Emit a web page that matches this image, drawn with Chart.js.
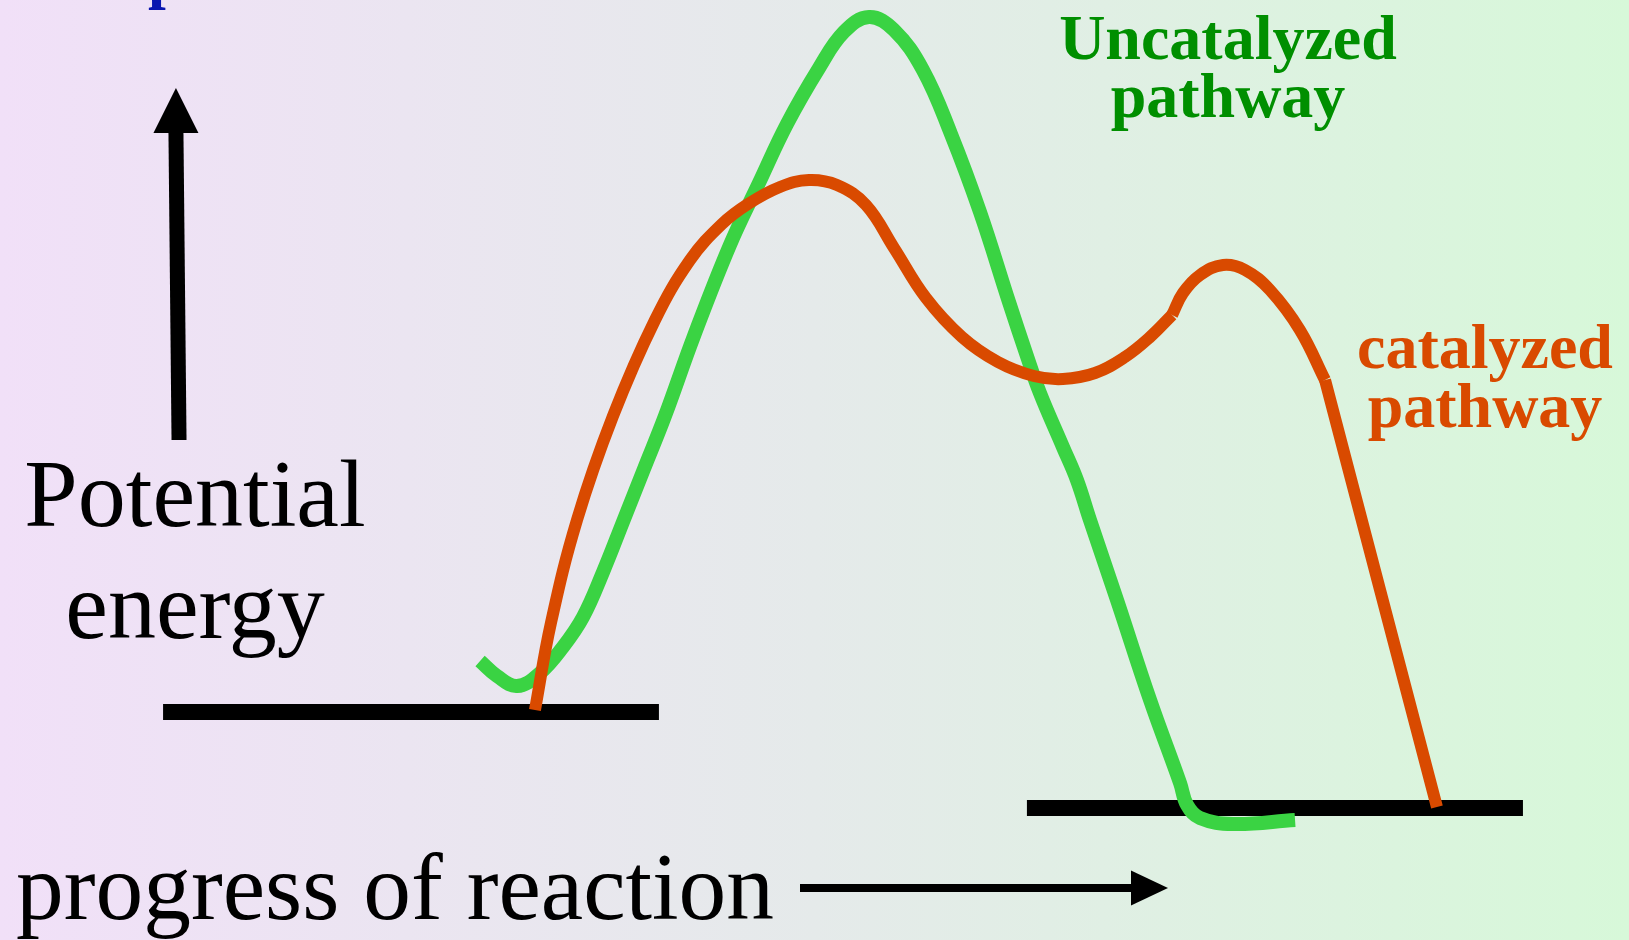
<!DOCTYPE html>
<html><head><meta charset="utf-8">
<script src="https://cdn.jsdelivr.net/npm/chart.js@4/dist/chart.umd.min.js"></script>
<style>html,body{margin:0;padding:0;overflow:hidden;background:#e6eaea}canvas{display:block}</style>
</head><body>
<canvas id="c" width="1629" height="940"></canvas>
<script>
// ---- Data (progress of reaction 0–100, potential energy 0–100) ----
const uncatalyzedX = [29.47, 30.51, 31.74, 33.15, 34.56, 35.79, 37.02, 38.24, 39.53, 40.82, 42.60, 44.81, 46.59, 48.31, 50.28, 51.81, 53.35, 54.88, 56.66, 58.38, 60.16, 61.94, 63.04, 63.84, 65.25, 66.11, 66.91, 68.57, 70.60, 72.44, 72.87, 73.66, 75.69, 79.50];
const uncatalyzedY = [29.68, 28.09, 27.02, 28.40, 31.17, 34.36, 39.15, 44.47, 50.11, 55.74, 64.26, 73.94, 80.53, 86.81, 92.77, 96.60, 98.19, 96.81, 92.55, 85.74, 77.45, 67.87, 62.13, 58.19, 52.45, 48.94, 44.68, 36.17, 25.53, 16.70, 14.36, 12.98, 12.34, 12.77];

const catalyzedX = [32.84, 33.82, 35.42, 37.63, 40.21, 42.36, 44.32, 45.92, 47.88, 49.66, 51.38, 53.16, 54.88, 56.84, 59.05, 61.26, 63.47, 65.25, 67.22, 69.06, 70.60, 71.95, 72.62, 73.66, 75.08, 76.43, 77.96, 79.80, 81.34, 88.21];
const catalyzedY = [24.47, 33.72, 44.68, 55.74, 65.96, 72.34, 76.17, 78.30, 80.11, 80.85, 80.32, 78.19, 73.62, 68.30, 64.15, 61.49, 60.00, 59.68, 60.32, 62.02, 64.15, 66.49, 68.83, 70.74, 71.81, 71.28, 69.15, 64.89, 59.57, 14.15];
const catalyzedCorners = [21, 28]; // indices where the drawn curve has a corner

const levelNames  = ['reactants', 'products'];
const levelStart  = [10.01, 63.04];
const levelEnd    = [40.45, 93.49];
const levelEnergy = [24.26, 14.04];

const energyArrowX   = [10.99, 10.80];
const energyArrowY   = [53.19, 90.64];
const progressArrowX = [49.11, 71.70];
const progressArrowY = [5.53, 5.53];

const axisLabelsY   = ['Potential', 'energy'];
const axisLabelX    = 'progress of reaction';
const seriesLabels  = [['Uncatalyzed', 'pathway'], ['catalyzed', 'pathway']];

// ---- Build datasets ----
const pts = (xs, ys) => xs.map((x, i) => ({x, y: ys[i]}));
const lineDs = (label, data, color, width, order) => ({
  label, data, showLine: true, borderColor: color, backgroundColor: color,
  borderWidth: width, pointRadius: 0, pointHoverRadius: 0, fill: false,
  tension: 0.4, borderCapStyle: 'butt', borderJoinStyle: 'round', order
});

const GREEN = '#3ad343', ORANGE = '#d94a00';
const datasets = [];
levelNames.forEach((n, i) => {
  datasets.push(lineDs(n, pts([levelStart[i], levelEnd[i]], [levelEnergy[i], levelEnergy[i]]), '#000000', 16, 3));
});
datasets.push(lineDs('Uncatalyzed pathway', pts(uncatalyzedX, uncatalyzedY), GREEN, 14, 2));
const cuts = [0, ...catalyzedCorners, catalyzedX.length - 1];
for (let s = 0; s < cuts.length - 1; s++) {
  const a = cuts[s], b = cuts[s + 1] + 1;
  datasets.push(lineDs('catalyzed pathway', pts(catalyzedX.slice(a, b), catalyzedY.slice(a, b)), ORANGE, 12, 1));
}

const decor = {
  id: 'decor',
  beforeDraw(chart) {
    const {ctx, width, height} = chart;
    const g = ctx.createLinearGradient(0, 0, width, 0);
    g.addColorStop(0, '#f1e0f8');
    g.addColorStop(0.5, '#e5eaea');
    g.addColorStop(1, '#d7f8d9');
    ctx.save(); ctx.fillStyle = g; ctx.fillRect(0, 0, width, height); ctx.restore();
  },
  afterDraw(chart) {
    const {ctx} = chart;
    const xs = chart.scales.x, ys = chart.scales.y;
    ctx.save();
    // vertical (energy) arrow
    {
      const x0 = xs.getPixelForValue(energyArrowX[0]), y0 = ys.getPixelForValue(energyArrowY[0]);
      const x1 = xs.getPixelForValue(energyArrowX[1]), y1 = ys.getPixelForValue(energyArrowY[1]);
      const head = 45, half = 22.5;
      ctx.strokeStyle = '#000'; ctx.lineWidth = 15; ctx.lineCap = 'butt';
      ctx.beginPath(); ctx.moveTo(x0, y0); ctx.lineTo(x1, y1 + head - 2); ctx.stroke();
      ctx.fillStyle = '#000';
      ctx.beginPath(); ctx.moveTo(x1, y1); ctx.lineTo(x1 - half, y1 + head); ctx.lineTo(x1 + half, y1 + head); ctx.closePath(); ctx.fill();
    }
    // horizontal (progress) arrow
    {
      const x0 = xs.getPixelForValue(progressArrowX[0]), y0 = ys.getPixelForValue(progressArrowY[0]);
      const x1 = xs.getPixelForValue(progressArrowX[1]);
      const head = 37, half = 17.5;
      ctx.strokeStyle = '#000'; ctx.lineWidth = 8;
      ctx.beginPath(); ctx.moveTo(x0, y0); ctx.lineTo(x1 - head + 2, y0); ctx.stroke();
      ctx.beginPath(); ctx.moveTo(x1, y0); ctx.lineTo(x1 - head, y0 - half); ctx.lineTo(x1 - head, y0 + half); ctx.closePath(); ctx.fill();
    }
    // axis labels
    ctx.fillStyle = '#000';
    ctx.textBaseline = 'alphabetic';
    ctx.font = '96px "Liberation Serif", "Times New Roman", serif';
    ctx.textAlign = 'center';
    ctx.fillText(axisLabelsY[0], 195, 526);
    ctx.fillText(axisLabelsY[1], 195, 638);
    ctx.textAlign = 'left';
    const w = ctx.measureText(axisLabelX).width;
    ctx.save();
    ctx.translate(16, 919);
    ctx.scale(758 / w, 1);
    ctx.fillText(axisLabelX, 0, 0);
    ctx.restore();
    // series labels
    ctx.textAlign = 'center';
    ctx.font = 'bold 64px "Liberation Serif", "Times New Roman", serif';
    ctx.fillStyle = '#008f00';
    ctx.fillText(seriesLabels[0][0], 1228, 59);
    ctx.fillText(seriesLabels[0][1], 1228, 117);
    ctx.fillStyle = ORANGE;
    ctx.fillText(seriesLabels[1][0], 1485, 368);
    ctx.fillText(seriesLabels[1][1], 1485, 427);
    // cut-off title fragment at the very top
    ctx.textAlign = 'left';
    ctx.fillStyle = '#0a16b0';
    ctx.fillText('p', 148, -4);
    ctx.restore();
  }
};

new Chart(document.getElementById('c'), {
  type: 'scatter',
  data: {datasets},
  options: {
    responsive: false, animation: false, devicePixelRatio: 1,
    layout: {padding: 0},
    plugins: {legend: {display: false}, tooltip: {enabled: false}},
    scales: {
      x: {type: 'linear', min: 0, max: 100, display: false},
      y: {type: 'linear', min: 0, max: 100, display: false}
    }
  },
  plugins: [decor]
});
</script>
</body></html>
